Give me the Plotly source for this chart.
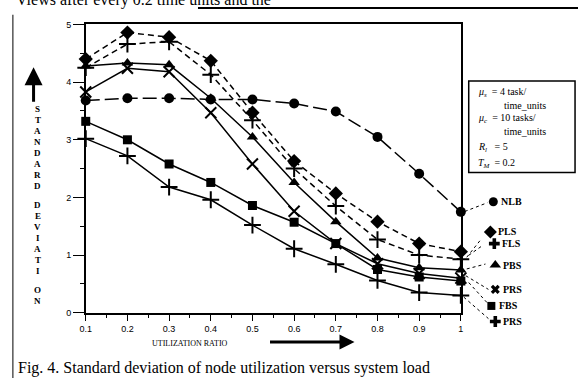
import plotly.graph_objects as go

W, H = 581, 383

# ---- data ----
util = [0.1, 0.2, 0.3, 0.4, 0.5, 0.6, 0.7, 0.8, 0.9, 1.0]
nlb = [3.68, 3.72, 3.72, 3.70, 3.70, 3.63, 3.49, 3.05, 2.41, 1.75]
pls = [4.40, 4.86, 4.78, 4.37, 3.47, 2.63, 2.07, 1.58, 1.20, 1.06]
fls = [4.25, 4.66, 4.70, 4.13, 3.34, 2.50, 1.85, 1.27, 1.00, 0.93]
pbs = [4.28, 4.33, 4.30, 3.72, 3.05, 2.26, 1.58, 0.95, 0.78, 0.74]
prs = [3.83, 4.24, 4.18, 3.47, 2.58, 1.76, 1.20, 0.85, 0.68, 0.60]
fbs = [3.32, 3.00, 2.58, 2.26, 1.86, 1.57, 1.20, 0.75, 0.62, 0.55]
prs2 = [3.02, 2.72, 2.18, 1.96, 1.52, 1.11, 0.84, 0.56, 0.35, 0.30]

xtick_vals = [0.1, 0.2, 0.3, 0.4, 0.5, 0.6, 0.7, 0.8, 0.9, 1.0]
xtick_text = ["0.1", "0.2", "0.3", "0.4", "0.5", "0.6", "0.7", "0.8", "0.9", "1"]
ytick_vals = [0, 1, 2, 3, 4, 5]

series = [
    ("NLB", nlb, "circle", (14, 5), 10),
    ("PLS", pls, "diamond", (6, 4), 11),
    ("FLS", fls, "cross-thin", (6, 4), 12),
    ("PBS", pbs, "triangle-up", None, 10),
    ("PRS", prs, "x-thin", None, 11),
    ("FBS", fbs, "square", None, 9),
    ("PRS", prs2, "cross-thin", None, 12),
]

def px(x):
    return x / W

def py(y):
    return 1 - y / H

fig = go.Figure()

for name, vals, sym, dash, size in series:
    dash_str = "solid" if dash is None else f"{dash[0]}px,{dash[1]}px"
    thin = sym.endswith("thin")
    fig.add_trace(go.Scatter(
        x=util, y=vals, mode="lines+markers", name=name,
        line=dict(color="black", width=1.5, dash=dash_str),
        marker=dict(symbol=sym, size=size, color="black",
                    line=dict(color="black", width=2 if thin else 0)),
        cliponaxis=False, showlegend=False,
    ))

# ---- custom legend (pixel-positioned axes covering the whole figure) ----
leg_items = [
    ("NLB", "circle", 9, 495, 202, (466, 212, 489, 203)),
    ("PLS", "diamond", 10, 492, 233, (468, 259, 483, 240)),
    ("FLS", "cross", 9, 496, 245, (470, 257, 484, 247)),
    ("PBS", "triangle-up", 10, 497, 267, (468, 271, 487, 266)),
    ("PRS", "x", 8, 497, 292, (467, 278, 490, 292)),
    ("FBS", "square", 8, 493, 309, (470, 285, 489, 306)),
    ("PRS", "cross", 9, 497, 325, (465, 300, 490, 322)),
]
for name, sym, size, mx, my, seg in leg_items:
    fig.add_trace(go.Scatter(
        x=[mx], y=[my], xaxis="x2", yaxis="y2", mode="markers",
        marker=dict(symbol=sym, size=size, color="black"),
        showlegend=False, cliponaxis=False, hoverinfo="skip"))
    fig.add_shape(type="line", xref="paper", yref="paper",
                  x0=px(seg[0]), y0=py(seg[1]), x1=px(seg[2]), y1=py(seg[3]),
                  line=dict(color="black", width=1, dash="dot"))
    fig.add_annotation(x=px(mx + 6), y=py(my), xref="paper", yref="paper",
                       text=f"<b>{name}</b>", showarrow=False,
                       xanchor="left", yanchor="middle",
                       font=dict(family="Liberation Serif", size=10, color="black"))

ann = []
# parameter box
fig.add_shape(type="rect", xref="paper", yref="paper",
              x0=px(470), y0=py(78), x1=px(578), y1=py(172),
              line=dict(color="black", width=1.5))
param_lines = [
    ("<i>μ<sub>s</sub></i>  = 4 task/", 477, 90),
    ("time_units", 504, 103),
    ("<i>μ<sub>c</sub></i>  = 10 tasks/", 477, 117),
    ("time_units", 504, 130),
    ("<i>R<sub>l</sub></i>   = 5", 477, 146),
    ("<i>T<sub>M</sub></i>  = 0.2", 477, 163),
]
for t, x, y in param_lines:
    ann.append(dict(x=px(x), y=py(y), xref="paper", yref="paper", text=t,
                    showarrow=False, xanchor="left", yanchor="middle",
                    font=dict(family="Liberation Serif", size=10, color="black")))

# vertical axis title letters
letters = list("STANDARD") + [""] + list("DEVIATI") + ["", "O", "N"]
y = 107
for ch in letters:
    if ch == "":
        y += 9
        continue
    ann.append(dict(x=px(32), y=py(y), xref="paper", yref="paper", text=f"<b>{ch}</b>",
                    showarrow=False, xanchor="center", yanchor="middle",
                    font=dict(family="Liberation Serif", size=9, color="black")))
    y += 11.2

# up arrow
ann.append(dict(x=px(28), y=py(64), xref="paper", yref="paper", ax=0, ay=36,
                text="", showarrow=True,
                arrowhead=2, arrowsize=1.2, arrowwidth=3, arrowcolor="black"))
# right arrow
ann.append(dict(x=px(354), y=py(346), xref="paper", yref="paper", ax=-86, ay=0,
                text="", showarrow=True, arrowhead=2, arrowsize=1.0,
                arrowwidth=3, arrowcolor="black"))
# x axis title
ann.append(dict(x=px(187), y=py(348), xref="paper", yref="paper",
                xanchor="center", yanchor="middle",
                text="UTILIZATION RATIO", showarrow=False,
                font=dict(family="Liberation Serif", size=8, color="black")))
# caption
ann.append(dict(x=px(10), y=py(373), xref="paper", yref="paper",
                xanchor="left", yanchor="middle",
                text="Fig. 4. Standard deviation of node utilization versus system load",
                showarrow=False,
                font=dict(family="Liberation Serif", size=16, color="black")))
# cut-off text at top
ann.append(dict(x=px(8), y=py(6), xref="paper", yref="paper", xanchor="left",
                yanchor="bottom", text="Views after every 0.2 time units and the",
                showarrow=False,
                font=dict(family="Liberation Serif", size=16, color="black")))

for a in ann:
    fig.add_annotation(**a)

# frame lines from scan
fig.add_shape(type="line", xref="paper", yref="paper", x0=px(7), y0=py(10),
              x1=px(7), y1=py(383), line=dict(color="black", width=1))
fig.add_shape(type="line", xref="paper", yref="paper", x0=px(195), y0=py(3),
              x1=px(581), y1=py(3), line=dict(color="black", width=2))

fig.update_layout(
    width=W, height=H,
    margin=dict(l=0, r=0, t=0, b=0),
    paper_bgcolor="white", plot_bgcolor="rgba(0,0,0,0)",
    xaxis=dict(domain=[px(81), px(462)], range=[0.1, 1.0],
               tickvals=xtick_vals, ticktext=xtick_text,
               ticks="outside", ticklen=7, tickwidth=1, tickcolor="black",
               minor=dict(dtick=0.05, tick0=0.05, ticks="outside", ticklen=4, tickcolor="black"),
               showline=True, linecolor="black", linewidth=1.5, mirror=True,
               showgrid=False, zeroline=False,
               tickfont=dict(family="Liberation Sans", size=9, color="black")),
    yaxis=dict(domain=[py(316), py(20)], range=[0, 5],
               tickvals=ytick_vals, ticks="outside", ticklen=11, tickwidth=1,
               tickcolor="black",
               minor=dict(dtick=0.5, ticks="outside", ticklen=4, tickcolor="black"),
               showline=True, linecolor="black", linewidth=1.5, mirror=True,
               showgrid=False, zeroline=False,
               tickfont=dict(family="Liberation Sans", size=9, color="black")),
    xaxis2=dict(domain=[0, 1], range=[0, W], visible=False, anchor="y2"),
    yaxis2=dict(domain=[0, 1], range=[H, 0], visible=False, anchor="x2"),
)

fig.write_html("out.html")
